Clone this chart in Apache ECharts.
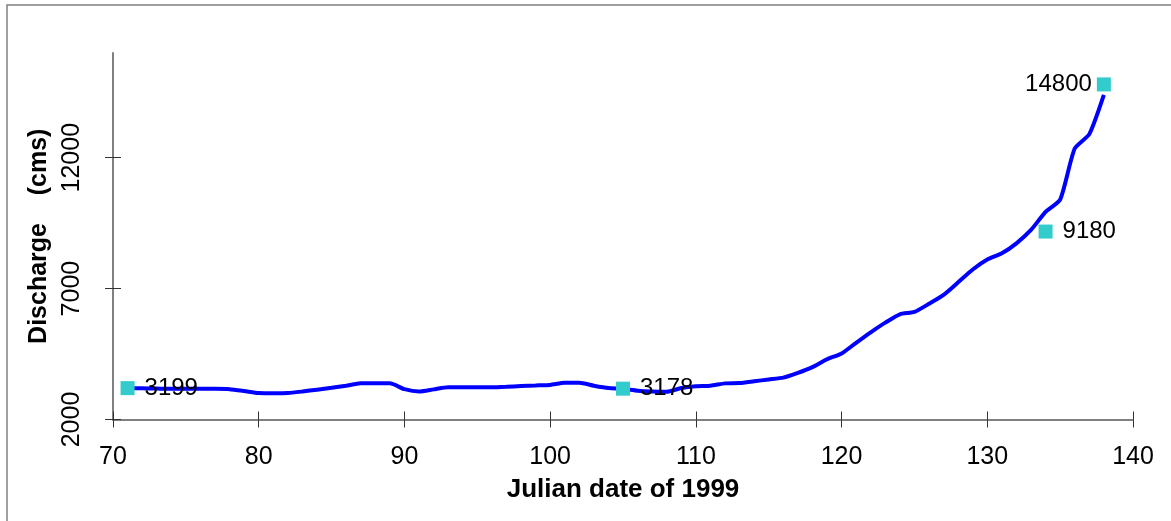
<!DOCTYPE html>
<html>
<head>
<meta charset="utf-8">
<title>Discharge, Julian date of 1999</title>
<script src="https://cdn.jsdelivr.net/npm/echarts@6/dist/echarts.min.js"></script>
<style>
  html, body { margin: 0; padding: 0; background: #ffffff; }
  #chart { width: 1171px; height: 521px; }
</style>
</head>
<body>
<div id="chart"></div>
<script>
// Daily discharge (cms) by Julian day, 1999
const days = [
  71, 72, 73, 74, 75, 76, 77, 78, 79, 80,
  81, 82, 83, 84, 85, 86, 87, 88, 89, 90,
  91, 92, 93, 94, 95, 96, 97, 98, 99, 100,
  101, 102, 103, 104, 105, 106, 107, 108, 109, 110,
  111, 112, 113, 114, 115, 116, 117, 118, 119, 120,
  121, 122, 123, 124, 125, 126, 127, 128, 129, 130,
  131, 132, 133, 134, 135, 136, 137, 138
];
const discharge = [
  3200, 3190, 3180, 3170, 3170, 3170, 3170, 3160, 3090, 3010,
  3000, 3010, 3070, 3140, 3210, 3290, 3380, 3380, 3380, 3160,
  3070, 3150, 3230, 3230, 3230, 3230, 3250, 3280, 3300, 3320,
  3400, 3400, 3290, 3200, 3170, 3100, 3070, 3060, 3200, 3270,
  3290, 3380, 3390, 3460, 3530, 3600, 3780, 4000, 4300, 4520,
  4930, 5330, 5700, 6020, 6110, 6420, 6760, 7240, 7730, 8110,
  8350, 8730, 9240, 9930, 10400, 12350, 12900, 14400
];

// Measured points with their labelled values
const sampleDays = [71, 105, 134, 138];
const sampleValues = [3199, 3178, 9180, 14800];

// Axis ticks
const xTicks = [70, 80, 90, 100, 110, 120, 130, 140];
const yTicks = [2000, 7000, 12000];

const FONT = '"Liberation Sans", Arial, sans-serif';

const lineData = days.map((d, i) => [d, discharge[i]]);
const pointData = sampleDays.map((d, i) => {
  const last = i === sampleDays.length - 1;
  return {
    value: [d, sampleValues[i]],
    label: { position: last ? 'left' : 'right', distance: last ? 5 : 10 }
  };
});

const xBase = {
  type: 'value', gridIndex: 0, position: 'bottom',
  min: 70, max: 140, interval: 10,
  splitLine: { show: false }
};
const yBase = {
  type: 'value', gridIndex: 0, position: 'left',
  min: 2000, max: 16000, interval: 5000,
  splitLine: { show: false }
};

const chart = echarts.init(document.getElementById('chart'), null, { renderer: 'canvas' });
chart.setOption({
  animation: false,
  backgroundColor: '#ffffff',
  graphic: [{
    type: 'rect',
    shape: { x: 7, y: 5, width: 1200, height: 560 },
    style: { fill: 'none', stroke: '#808080', lineWidth: 1.5 },
    silent: true,
    z: -10
  }],
  grid: { left: 113, right: 38, top: 53, bottom: 101.5, containLabel: false },
  xAxis: [
    Object.assign({}, xBase, {
      name: 'Julian date of 1999',
      nameLocation: 'middle',
      nameGap: 57,
      nameTextStyle: { fontFamily: FONT, fontSize: 26, fontWeight: 'bold', color: '#000' },
      axisLine: { show: true, lineStyle: { color: '#808080', width: 2 } },
      axisTick: { show: true, inside: false, length: 8, lineStyle: { color: '#333', width: 1 } },
      axisLabel: {
        show: true, margin: 25, fontFamily: FONT, fontSize: 25, color: '#000',
        customValues: xTicks,
        formatter: v => String(v)
      }
    }),
    Object.assign({}, xBase, {
      axisLine: { show: false },
      axisTick: { show: true, inside: true, length: 8, lineStyle: { color: '#333', width: 1 } },
      axisLabel: { show: false }
    })
  ],
  yAxis: [
    Object.assign({}, yBase, {
      name: 'Discharge    (cms)',
      nameLocation: 'middle',
      nameGap: 60,
      nameRotate: 90,
      nameTextStyle: { fontFamily: FONT, fontSize: 25, fontWeight: 'bold', color: '#000' },
      axisLine: { show: true, lineStyle: { color: '#808080', width: 2 } },
      axisTick: { show: true, inside: false, length: 8, customValues: yTicks, lineStyle: { color: '#333', width: 1 } },
      axisLabel: {
        show: true, rotate: 90, margin: 28, fontFamily: FONT, fontSize: 25, color: '#000',
        customValues: yTicks,
        formatter: v => String(v)
      }
    }),
    Object.assign({}, yBase, {
      axisLine: { show: false },
      axisTick: { show: true, inside: true, length: 8, customValues: yTicks, lineStyle: { color: '#333', width: 1 } },
      axisLabel: { show: false }
    })
  ],
  series: [
    {
      type: 'line',
      xAxisIndex: 0, yAxisIndex: 0,
      data: lineData,
      showSymbol: false,
      smooth: 0.2,
      lineStyle: { color: '#0000ff', width: 4 },
      z: 2
    },
    {
      type: 'scatter',
      xAxisIndex: 0, yAxisIndex: 0,
      data: pointData,
      symbol: 'rect',
      symbolSize: 14,
      itemStyle: { color: '#33cccc', opacity: 1 },
      label: {
        show: true,
        formatter: p => String(p.value[1]),
        fontFamily: FONT, fontSize: 24, color: '#000'
      },
      z: 3
    }
  ]
});
</script>
</body>
</html>
